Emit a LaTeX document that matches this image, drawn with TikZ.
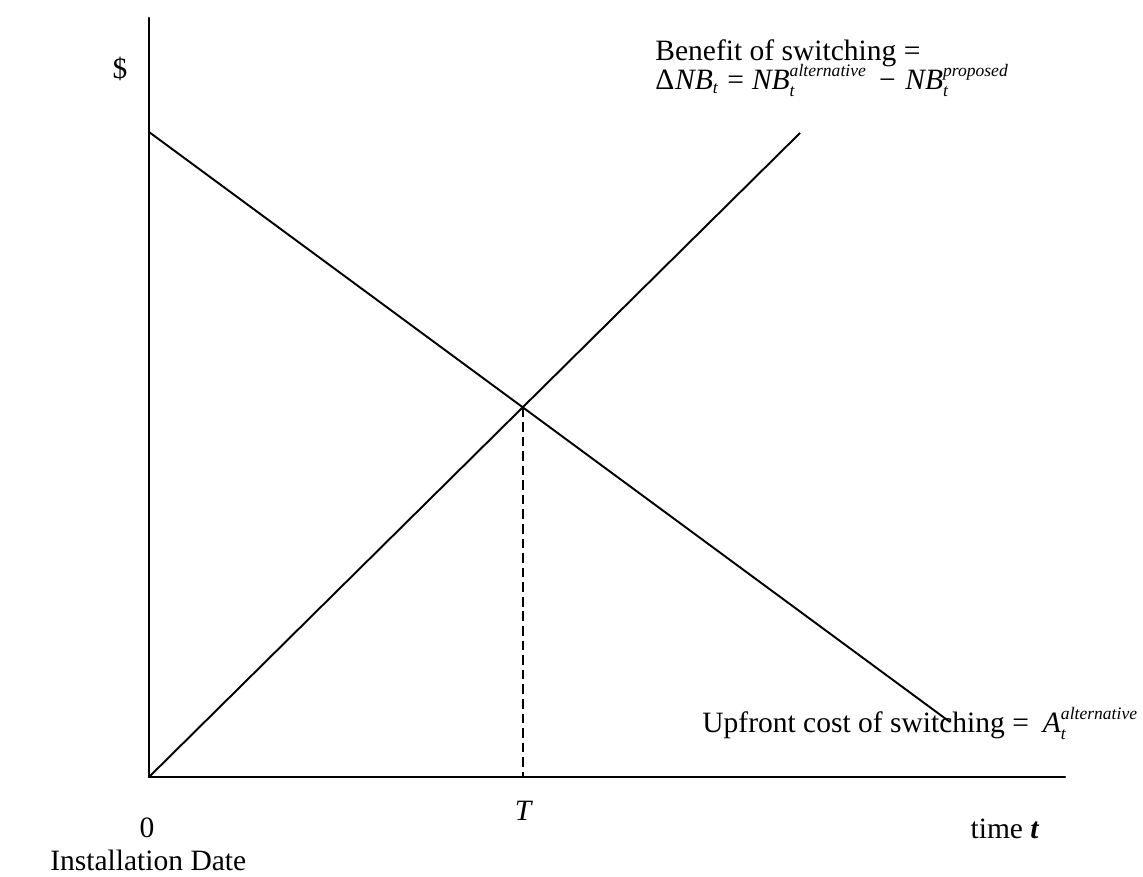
\documentclass[tikz,border=0pt]{standalone}
\usepackage{amsmath}
\usepackage{fontspec}
\setmainfont{Liberation Serif}
\DeclareMathSizes{16.8}{16.8}{10}{8}
\newcommand{\ti}[1]{\text{\itshape #1}}
\tikzset{
  axisline/.style={line width=1.2pt, line cap=round},
  curveline/.style={line width=1.1pt},
  dashline/.style={line width=1.1pt, dash pattern=on 5.5pt off 2.8pt},
  lbl/.style={inner sep=0pt, font=\fontsize{16.8}{20}\selectfont},
}
\begin{document}
\begin{tikzpicture}[x=0.02cm,y=-0.02cm]
\useasboundingbox (0,0) rectangle (1143,876);
\fill[white] (0,0) rectangle (1143,876);
% coordinates
\coordinate (O) at (149,777);
\coordinate (Ytop) at (149,18);
\coordinate (Xend) at (1065,777);
\coordinate (D1) at (149,132);
\coordinate (D2) at (950,722);
\coordinate (U2) at (800,133);
\coordinate (X) at (intersection of O--U2 and D1--D2);
\coordinate (Tfoot) at (O -| X);
% axes
\draw[axisline] (Ytop) -- (O) -- (Xend);
% lines
\draw[curveline] (D1) -- (D2);
\draw[curveline] (O) -- (U2);
\draw[dashline] (X) -- (Tfoot);
% labels
\node[lbl] (dollar) at (120,69) {\$};
\node[lbl, anchor=base west] (benefit) at (655,60) {Benefit of switching =};
\node[lbl, anchor=base west] (formula) at (655,89)
  {$\text{Δ}\hspace{0.5pt}\ti{NB}_{\ti{t}}\hspace{5pt}\text{=}\hspace{4.5pt}\ti{NB}_{\ti{t}}^{\ti{alternative}}\hspace{7pt}\text{−}\hspace{5.5pt}\ti{NB}_{\ti{t}}^{\ti{proposed}}$};
\node[lbl, anchor=base west] (upfront) at (702,732)
  {Upfront cost of switching =\hspace{8pt}$\ti{A}_{\ti{t}}^{\ti{alternative}}$};
\node[lbl, anchor=base] (zero) at (147,837) {0};
\node[lbl, anchor=base west] (install) at (50,870) {Installation Date};
\node[lbl, anchor=base] (T) at (523,820) {\itshape T};
\node[lbl, anchor=base] (time) at (1005,838) {time \textit{\bfseries t}};
\end{tikzpicture}
\end{document}
